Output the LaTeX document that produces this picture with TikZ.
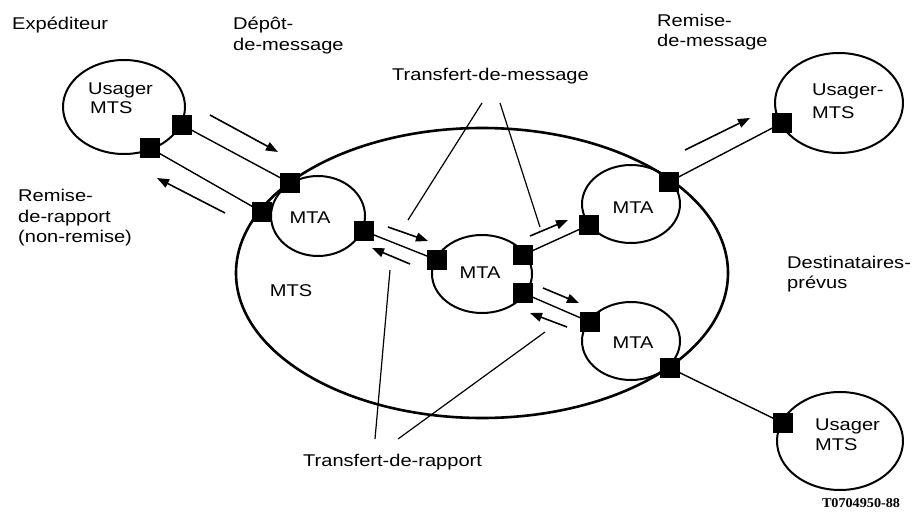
\documentclass[tikz,border=0pt]{standalone}
\usepackage{fontspec}
\setmainfont{Liberation Sans}[FakeStretch=1.18]
\newfontfamily\refcode{Liberation Serif}[FakeStretch=1.05]
\usetikzlibrary{shapes.geometric,arrows.meta}

\begin{document}
\begin{tikzpicture}[x=1pt,y=-1pt,
  lbl/.style={anchor=base west,inner sep=0pt,font=\fontsize{17}{20}\selectfont},
  ctr/.style={inner sep=0pt,font=\fontsize{17}{20}\selectfont},
  zone/.style={draw,ellipse,line width=2pt,inner sep=0pt},
  port/.style={rectangle,fill=black,draw=none,minimum size=20pt,inner sep=0pt},
  link/.style={line width=1.4pt},
  flow/.style={line width=1.6pt,-{Triangle[length=12pt,width=9pt]}},
  pointer/.style={line width=1.2pt},
]
\useasboundingbox (0,0) rectangle (914,522);

% message transfer system and its agents
\node[zone,line width=2.6pt,minimum width=492pt,minimum height=290pt] (mts) at (482,273) {};
\node[zone,minimum width=122pt,minimum height=94pt] (usrc) at (124,107) {};
\node[zone,minimum width=94pt,minimum height=80pt] (mtaA) at (318,216) {};
\node[zone,minimum width=100pt,minimum height=78pt] (mtaB) at (482,274) {};
\node[zone,minimum width=98pt,minimum height=78pt] (mtaC) at (631,204) {};
\node[zone,minimum width=98pt,minimum height=78pt] (mtaD) at (631,341) {};
\node[zone,minimum width=128pt,minimum height=100pt] (udst1) at (839,103) {};
\node[zone,minimum width=126pt,minimum height=98pt] (udst2) at (840,441) {};

% access points
\coordinate (pS1) at (182,125);
\coordinate (pS2) at (150,148);
\coordinate (pA1) at (290,183);
\coordinate (pA2) at (262,212);
\coordinate (pA3) at (364,231);
\coordinate (pB1) at (437,260);
\coordinate (pB2) at (523,255);
\coordinate (pB3) at (523,293);
\coordinate (pC1) at (589,225);
\coordinate (pC2) at (669,182);
\coordinate (pD1) at (590,322);
\coordinate (pD2) at (670,368);
\coordinate (pR1) at (782,123);
\coordinate (pR2) at (783,423);

% links between access points
\draw[link] (pS1) -- (pA1);
\draw[link] (pS2) -- (pA2);
\draw[link] (pA3) -- (pB1);
\draw[link] (pB2) -- (pC1);
\draw[link] (pB3) -- (pD1);
\draw[link] (pC2) -- (pR1);
\draw[link] (pD2) -- (pR2);

\foreach \p in {S1,S2,A1,A2,A3,B1,B2,B3,C1,C2,D1,D2,R1,R2}
  \node[port] (q\p) at (p\p) {};

% flow arrows
\coordinate (f1a) at (210,115); \coordinate (f1b) at (278,152);
\coordinate (f2a) at (225,213); \coordinate (f2b) at (157,178);
\coordinate (f3a) at (388,227); \coordinate (f3b) at (428,241);
\coordinate (f4a) at (410,264); \coordinate (f4b) at (372,248);
\coordinate (f5a) at (530,236); \coordinate (f5b) at (568,220);
\coordinate (f6a) at (543,288); \coordinate (f6b) at (579,303);
\coordinate (f7a) at (567,327); \coordinate (f7b) at (530,313);
\coordinate (f8a) at (685,150); \coordinate (f8b) at (750,118);
\foreach \i in {1,...,8}
  \draw[flow] (f\i a) -- (f\i b);

% labels
\node[lbl] (exp) at (12,30) {Expéditeur};
\node[lbl] (dep1) at (233,30) {Dépôt-};
\node[lbl] (dep2) at (233,50) {de-message};
\node[lbl] (rem1) at (657,27) {Remise-};
\node[lbl] (rem2) at (657,46) {de-message};
\node[lbl] (tmsg) at (392,80) {Transfert-de-message};
\node[lbl] (rr1) at (18,201) {Remise-};
\node[lbl] (rr2) at (18,222) {de-rapport};
\node[lbl] (rr3) at (18,242) {(non-remise)};
\node[lbl] (dst1) at (787,268) {Destinataires-};
\node[lbl] (dst2) at (787,288) {prévus};
\node[lbl] (trap) at (303,466) {Transfert-de-rapport};

\node[lbl] (us1) at (88,94) {Usager};
\node[lbl] (us2) at (90,113) {MTS};
\node[lbl] (ud1) at (812,95) {Usager-};
\node[lbl] (ud2) at (812,118) {MTS};
\node[lbl] (ue1) at (815,430) {Usager};
\node[lbl] (ue2) at (815,450) {MTS};

\node[ctr] (tmts) at (291,291) {MTS};
\node[ctr] (tA) at (310,218) {MTA};
\node[ctr] (tB) at (480,273) {MTA};
\node[ctr] (tC) at (633,208) {MTA};
\node[ctr] (tD) at (633,343) {MTA};

\node[inner sep=0pt,font=\refcode\bfseries\fontsize{13.5}{15}\selectfont] (code) at (861,503) {T0704950-88};

% pointer lines from the transfer labels
\coordinate (m1a) at (482,103); \coordinate (m1b) at (408,220);
\coordinate (m2a) at (500,103); \coordinate (m2b) at (540,227);
\coordinate (r1a) at (375,439); \coordinate (r1b) at (390,270);
\coordinate (r2a) at (398,439); \coordinate (r2b) at (545,332);
\draw[pointer] (m1a) -- (m1b);
\draw[pointer] (m2a) -- (m2b);
\draw[pointer] (r1a) -- (r1b);
\draw[pointer] (r2a) -- (r2b);
\end{tikzpicture}
\end{document}
